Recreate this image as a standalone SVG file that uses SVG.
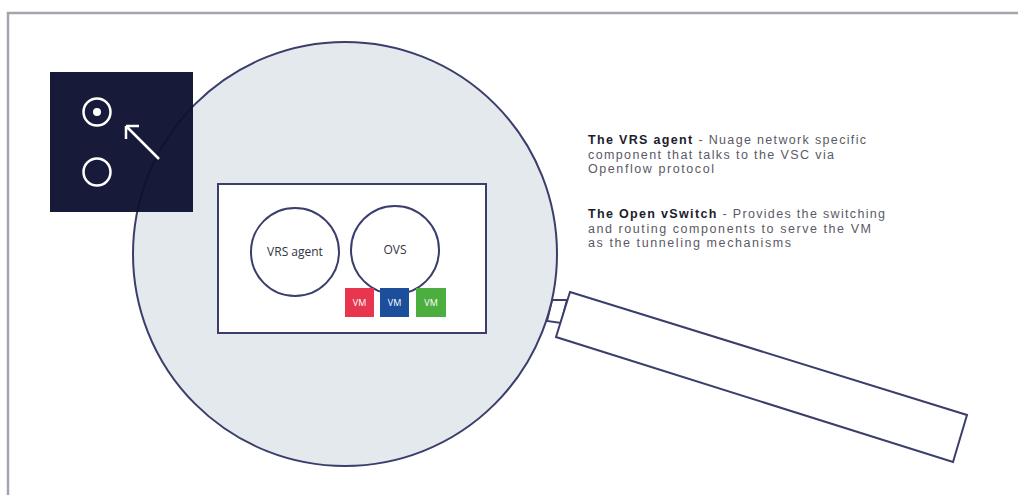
<svg xmlns="http://www.w3.org/2000/svg" width="1018" height="495" viewBox="0 0 1018 495">
  <defs>
    <style>
      .frame { stroke: #a4a4ad; stroke-width: 2.5; fill: none; }
      .outline { stroke: #3b3e6b; stroke-width: 2; }
      .icon { stroke: #ffffff; stroke-width: 2.5; fill: none; }
      .lbl { font-family: "Open Sans", "Liberation Sans", sans-serif; font-size: 12px; fill: #333340; text-anchor: middle; }
      .vm { font-family: "Open Sans", "Liberation Sans", sans-serif; font-size: 9px; fill: #ffffff; text-anchor: middle; }
      .desc { font-family: "Liberation Sans", "Open Sans", sans-serif; font-size: 12.5px; fill: #5a5a66; }
      .bold { font-weight: bold; fill: #1c1c2c; }
    </style>
  </defs>
  <rect x="0" y="0" width="1018" height="495" fill="#ffffff"/>
  <g id="frame">
    <path class="frame" d="M8,495 L8,13 L1018,13"/>
  </g>
  <g id="magnifier">
    <polygon id="collar" class="outline" fill="#ffffff" points="552,300 567,300 561,323 547,321"/>
    <polygon id="handle" class="outline" fill="#ffffff" points="570,292 967,415 953,462 556,337"/>
    <circle id="lens" class="outline" cx="345" cy="254" r="212" fill="#e4e9ee"/>
  </g>
  <g id="icon-box">
    <rect x="50" y="72" width="143" height="140" fill="#0e1231" opacity="0.96"/>
    <circle class="icon" cx="97" cy="112" r="13.5"/>
    <circle cx="97" cy="112" r="4" fill="#ffffff"/>
    <circle class="icon" cx="97" cy="172" r="13.5"/>
    <path class="icon" d="M159,159 L126,126 M126,126 L126,139 M126,126 L139,126"/>
  </g>
  <g id="host">
    <rect x="218" y="184" width="268" height="149" fill="#ffffff" class="outline"/>
  </g>
  <g id="vrs-agent">
    <circle class="outline" cx="295" cy="252" r="44" fill="#ffffff"/>
    <text class="lbl" x="295" y="256">VRS agent</text>
  </g>
  <g id="ovs">
    <circle class="outline" cx="395" cy="250" r="44" fill="#ffffff"/>
    <text class="lbl" x="395" y="254">OVS</text>
  </g>
  <g id="vm-red">
    <rect x="345" y="288" width="29" height="29" fill="#e8364f"/>
    <text class="vm" x="359.5" y="306">VM</text>
  </g>
  <g id="vm-blue">
    <rect x="380" y="288" width="29" height="29" fill="#1b4f9c"/>
    <text class="vm" x="394.5" y="306">VM</text>
  </g>
  <g id="vm-green">
    <rect x="416" y="288" width="30" height="29" fill="#4bae3f"/>
    <text class="vm" x="431" y="306">VM</text>
  </g>
  <g id="description">
    <text class="desc" x="588" y="144" textLength="278" lengthAdjust="spacing"><tspan class="bold">The VRS agent</tspan> - Nuage network specific</text>
    <text class="desc" x="588" y="158.5" textLength="246" lengthAdjust="spacing">component that talks to the VSC via</text>
    <text class="desc" x="588" y="173" textLength="126" lengthAdjust="spacing">Openflow protocol</text>
    <text class="desc" x="588" y="218" textLength="297" lengthAdjust="spacing"><tspan class="bold">The Open vSwitch</tspan> - Provides the switching</text>
    <text class="desc" x="588" y="232.5" textLength="283" lengthAdjust="spacing">and routing components to serve the VM</text>
    <text class="desc" x="588" y="247" textLength="203" lengthAdjust="spacing">as the tunneling mechanisms</text>
  </g>
</svg>
